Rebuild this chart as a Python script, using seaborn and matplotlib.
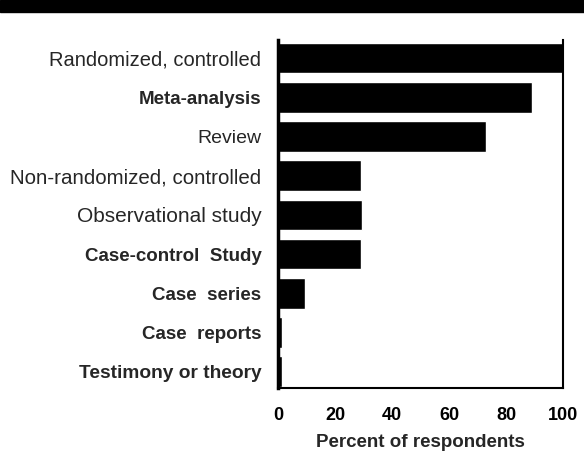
"""
Horizontal bar chart: type of evidence respondents find convincing.
Writes out.png
"""

import matplotlib
matplotlib.use("Agg")
import matplotlib.pyplot as plt
import pandas as pd
import seaborn as sns

# data
study_types = [
    "Randomized, controlled",
    "Meta-analysis",
    "Review",
    "Non-randomized, controlled",
    "Observational study",
    "Case-control  Study",
    "Case  series",
    "Case  reports",
    "Testimony or theory",
]
percent = [100, 89, 73, 29, 29.5, 29, 9.5, 1.5, 1.5]
x_ticks = [0, 20, 40, 60, 80, 100]

# label styling (the original mixes typefaces)
label_weights = ["normal", "bold", "normal", "normal", "normal",
                 "bold", "bold", "bold", "bold"]
label_sizes = [14.5, 13.5, 14, 14.8, 15, 13.5, 13.5, 13.5, 13.8]


def main():
    sns.set_style("white")
    plt.rcParams["font.family"] = ["Liberation Sans", "DejaVu Sans"]

    df = pd.DataFrame({"type": study_types, "pct": percent})

    fig = plt.figure(figsize=(5.84, 4.62), dpi=100)
    ax = fig.add_axes([0.476, 0.160, 0.488, 0.753])

    sns.barplot(data=df, x="pct", y="type", orient="h", color="black",
                width=0.78, saturation=1, ax=ax)

    ax.set_xlim(0, 100)
    ax.set_ylim(8.42, -0.46)
    ax.set_xticks(x_ticks)
    ax.set_xticklabels([str(t) for t in x_ticks], fontsize=13, fontweight="bold")
    ax.tick_params(axis="x", direction="inout", length=9, width=1.2,
                   pad=9, colors="black")
    ax.tick_params(axis="y", length=0, pad=12)
    for lbl, w, s in zip(ax.get_yticklabels(), label_weights, label_sizes):
        lbl.set_fontweight(w)
        lbl.set_fontsize(s)
    ax.set_ylabel("")
    ax.set_xlabel("Percent of respondents", fontsize=13.5, fontweight="bold",
                  labelpad=7)

    for side in ["left", "bottom", "right"]:
        ax.spines[side].set_visible(True)
        ax.spines[side].set_color("black")
    ax.spines["left"].set_linewidth(2.5)
    ax.spines["bottom"].set_linewidth(1.5)
    ax.spines["right"].set_linewidth(1.5)
    ax.spines["top"].set_visible(False)

    # black title band across the top of the page
    fig.patches.append(plt.Rectangle((0, 0.974), 1, 0.026, transform=fig.transFigure,
                                     color="black", zorder=0))

    fig.savefig("out.png", dpi=100)
    plt.close(fig)


if __name__ == "__main__":
    main()
